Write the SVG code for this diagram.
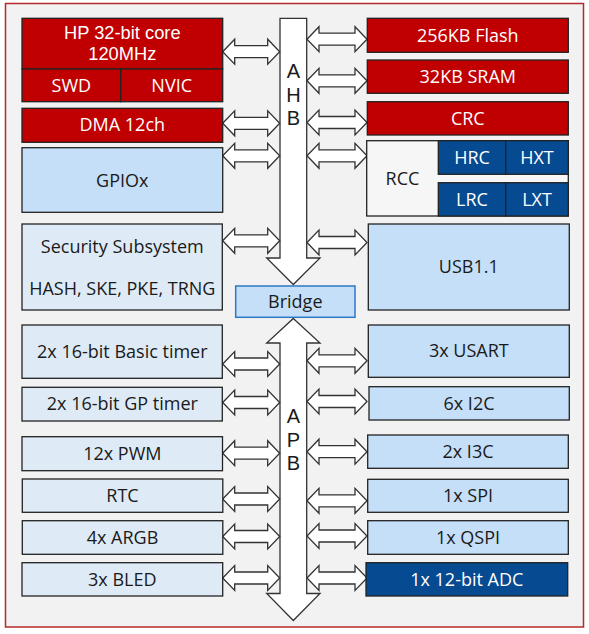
<svg xmlns="http://www.w3.org/2000/svg" xmlns:xlink="http://www.w3.org/1999/xlink" width="589" height="634" viewBox="0 0 589 634">
<style>
text{font-family:"Open Sans","Noto Sans","Liberation Sans",sans-serif;font-size:18px;text-anchor:middle;fill:#1a1a1a}
.w{fill:#ffffff}
.box{stroke:#222222;stroke-width:1.3}
.red{fill:#c00000}
.dblue{fill:#064a91}
.lb{fill:#c5dff8}
.xb{fill:#deebf7}
.bus{fill:#ffffff;stroke:#333333;stroke-width:1.3}
.arr{fill:#ffffff;stroke:#333333;stroke-width:1.3;stroke-linejoin:miter}
.bl{font-family:"Liberation Sans",Arial,sans-serif;font-size:20px}
.tight{font-family:"Liberation Sans",Arial,sans-serif;font-size:18.3px}
</style>
<defs>
<path id="dblL" class="arr" d="M222.7,0 L234.7,-12.5 L234.7,-6 L267.7,-6 L267.7,-12.5 L279.7,0 L267.7,12.5 L267.7,6 L234.7,6 L234.7,12.5 Z"/>
<path id="dblR" class="arr" d="M307,0 L319,-12.5 L319,-6 L355,-6 L355,-12.5 L367,0 L355,12.5 L355,6 L319,6 L319,12.5 Z"/>
</defs>
<rect x="5.5" y="3.5" width="578" height="623.5" fill="#f2f2f2" stroke="#b52a2a" stroke-width="1.5"/>

<g id="buses">
<path id="ahb" class="bus" d="M280,18.3 L306.7,18.3 L306.7,258 L320,258 L293.3,284.5 L266.7,258 L280,258 Z"/>
<path id="apb" class="bus" d="M293.3,318.5 L320,343 L306.7,343 L306.7,593.5 L320,593.5 L293.3,620.5 L266.7,593.5 L280,593.5 L280,343 L266.7,343 Z"/>
<text class="bl" x="293.5" y="78.3">A</text>
<text class="bl" x="293.5" y="101.7">H</text>
<text class="bl" x="293.5" y="125">B</text>
<text class="bl" x="293.5" y="423.3">A</text>
<text class="bl" x="293.5" y="446.7">P</text>
<text class="bl" x="293.5" y="470">B</text>
</g>

<g id="bridge">
<rect x="235.7" y="286" width="119.3" height="31.3" fill="#c5dff8" stroke="#2f78c4" stroke-width="1.5"/>
<text x="295.3" y="307.5">Bridge</text>
</g>

<g id="connectors">
<use xlink:href="#dblL" y="51.7"/>
<use xlink:href="#dblL" y="123.3"/>
<use xlink:href="#dblL" y="155.8"/>
<use xlink:href="#dblL" y="240.8"/>
<use xlink:href="#dblL" y="364"/>
<use xlink:href="#dblL" y="402.5"/>
<use xlink:href="#dblL" y="453.2"/>
<use xlink:href="#dblL" y="499"/>
<use xlink:href="#dblL" y="536.5"/>
<use xlink:href="#dblL" y="578"/>
<use xlink:href="#dblR" y="39.2"/>
<use xlink:href="#dblR" y="80.8"/>
<use xlink:href="#dblR" y="122.5"/>
<use xlink:href="#dblR" y="155.8"/>
<use xlink:href="#dblR" y="242.5"/>
<use xlink:href="#dblR" y="360.8"/>
<use xlink:href="#dblR" y="401.5"/>
<use xlink:href="#dblR" y="451.7"/>
<use xlink:href="#dblR" y="500.8"/>
<use xlink:href="#dblR" y="536"/>
<use xlink:href="#dblR" y="578"/>
</g>

<g id="core">
<rect class="box red" x="22" y="18.3" width="200.7" height="50.7"/>
<text class="w tight" x="122.3" y="39">HP 32-bit core</text>
<text class="w tight" x="122.3" y="60.3">120MHz</text>
</g>
<g id="swd">
<rect class="box red" x="22" y="69" width="98.7" height="32.7"/>
<text class="w" x="71.3" y="91.5">SWD</text>
</g>
<g id="nvic">
<rect class="box red" x="120.7" y="69" width="102" height="32.7"/>
<text class="w" x="171.7" y="91.5">NVIC</text>
</g>
<g id="dma">
<rect class="box red" x="22" y="108.3" width="200.7" height="34"/>
<text class="w" x="122.3" y="131.3">DMA 12ch</text>
</g>
<g id="gpio">
<rect class="box lb" x="22" y="147.7" width="200.7" height="64.6"/>
<text x="122.3" y="186.5">GPIOx</text>
</g>
<g id="security">
<rect class="box xb" x="22" y="224" width="200.3" height="86"/>
<text x="122.3" y="252.7">Security Subsystem</text>
<text x="122.3" y="295">HASH, SKE, PKE, TRNG</text>
</g>
<g id="basictimer">
<rect class="box xb" x="22" y="325" width="200.3" height="53.3"/>
<text x="122.3" y="357.5">2x 16-bit Basic timer</text>
</g>
<g id="gptimer">
<rect class="box xb" x="22" y="387.3" width="200.3" height="33.7"/>
<text x="122.3" y="410.3">2x 16-bit GP timer</text>
</g>
<g id="pwm">
<rect class="box xb" x="22" y="436.7" width="200.5" height="34"/>
<text x="122.3" y="459.8">12x PWM</text>
</g>
<g id="rtc">
<rect class="box xb" x="22.3" y="479" width="200.5" height="33.3"/>
<text x="122.5" y="501.8">RTC</text>
</g>
<g id="argb">
<rect class="box xb" x="22.3" y="520.7" width="200.5" height="33.6"/>
<text x="122.5" y="543.6">4x ARGB</text>
</g>
<g id="bled">
<rect class="box xb" x="22" y="562.7" width="200.7" height="33.3"/>
<text x="122.3" y="585.5">3x BLED</text>
</g>

<g id="flash">
<rect class="box red" x="367.3" y="18.3" width="201" height="34"/>
<text class="w" x="467.8" y="41.5">256KB Flash</text>
</g>
<g id="sram">
<rect class="box red" x="367.3" y="60" width="201" height="33.3"/>
<text class="w" x="467.8" y="82.8">32KB SRAM</text>
</g>
<g id="crc">
<rect class="box red" x="367.3" y="101.7" width="201" height="33.3"/>
<text class="w" x="467.8" y="124.5">CRC</text>
</g>
<g id="rcc">
<rect class="box" fill="#f6f6f6" x="366.7" y="140.7" width="201.6" height="75.3"/>
<text x="402.5" y="184.5">RCC</text>
</g>
<g id="hrc">
<rect class="box dblue" x="438.3" y="140.7" width="67.4" height="33.6"/>
<text class="w" x="472" y="163.6">HRC</text>
</g>
<g id="hxt">
<rect class="box dblue" x="505.7" y="140.7" width="62.6" height="33.6"/>
<text class="w" x="537" y="163.6">HXT</text>
</g>
<g id="lrc">
<rect class="box dblue" x="438.3" y="182.7" width="67.4" height="33.3"/>
<text class="w" x="472" y="205.6">LRC</text>
</g>
<g id="lxt">
<rect class="box dblue" x="505.7" y="182.7" width="62.6" height="33.3"/>
<text class="w" x="537" y="205.6">LXT</text>
</g>
<g id="usb">
<rect class="box lb" x="368.3" y="224" width="201" height="86"/>
<text x="468.8" y="273">USB1.1</text>
</g>
<g id="usart">
<rect class="box lb" x="368.3" y="325" width="201" height="52.3"/>
<text x="468.8" y="357">3x USART</text>
</g>
<g id="i2c">
<rect class="box lb" x="369" y="386.7" width="200.3" height="33.3"/>
<text x="469" y="409.5">6x I2C</text>
</g>
<g id="i3c">
<rect class="box lb" x="367.7" y="435" width="200.6" height="33.3"/>
<text x="468" y="457.8">2x I3C</text>
</g>
<g id="spi">
<rect class="box lb" x="367.7" y="479.3" width="200.6" height="33"/>
<text x="468" y="502">1x SPI</text>
</g>
<g id="qspi">
<rect class="box lb" x="367.7" y="520.7" width="200.6" height="33.6"/>
<text x="468" y="543.6">1x QSPI</text>
</g>
<g id="adc">
<rect class="box dblue" x="366" y="562.7" width="201.7" height="33.3"/>
<text class="w" x="466.8" y="585.5">1x 12-bit ADC</text>
</g>
</svg>
